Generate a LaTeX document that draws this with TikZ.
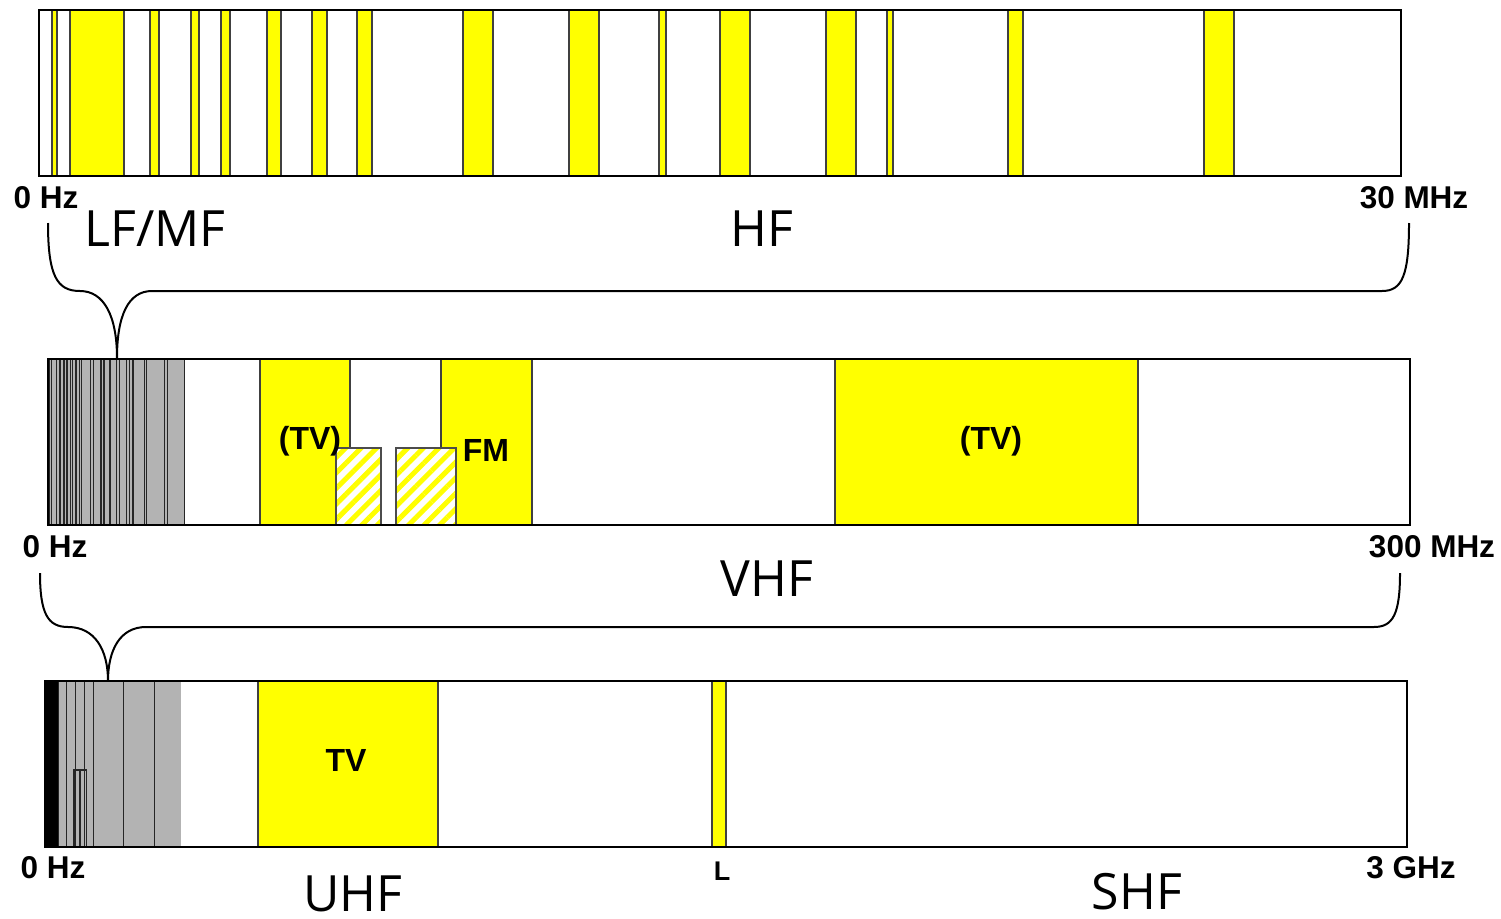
\documentclass[tikz,border=0pt]{standalone}
\usepackage{fontspec}
\setmainfont{Liberation Sans}
\newfontfamily\bigfont{Open Sans}
\usetikzlibrary{patterns.meta}
\definecolor{bandyellow}{RGB}{255,255,0}
\definecolor{lfgray}{RGB}{179,179,179}

% HF allocations, as x positions on the 0--30 MHz strip
\def\hfbands{52/57,70/124,150/159,191/199,221/230,267/281,312/327,357/372,463/493,569/599,659/666,720/750,826/856,887/893,1008/1023,1204/1234}
% VHF edges, as x positions on the 0--300 MHz strip
\def\vhfedges{184.2,260,350,441,532,835,1139}

\begin{document}
\begin{tikzpicture}[x=1pt,y=-1pt,
  frame/.style={draw=black,line width=2.4pt},
  band/.style={fill=bandyellow,draw=black!75,line width=1.2pt},
  edge/.style={draw=black!85,line width=1.1pt},
  hatch/.style={preaction={fill=white},pattern={Lines[angle=45,distance=11pt,line width=5pt]},pattern color=bandyellow},
  hatchframe/.style={draw=black!70,line width=1.2pt},
  brace/.style={draw=black,line width=2pt},
  scalelbl/.style={inner sep=0pt,anchor=base,font=\fontsize{31.5}{36}\selectfont\bfseries},
  bandlbl/.style={inner sep=0pt,font=\fontsize{32}{38}\selectfont\bfseries},
  rangelbl/.style={inner sep=0pt,anchor=base,text depth=0pt,font=\bigfont\fontsize{50}{58}\selectfont}]
\useasboundingbox (0,0) rectangle (1501,918);

% ---------- 0 .. 30 MHz ----------
\fill[white] (39,10) rectangle (1401,176);
\foreach \a/\b in \hfbands { \path[band] (\a,10) rectangle (\b,176); }
\draw[frame] (39,10) rectangle (1401,176);

\node[scalelbl] (hzA) at (46,208) {0 Hz};
\node[scalelbl] (mhz30) at (1414,208) {30 MHz};
\node[rangelbl] (lfmf) at (155,246) {LF/MF};
\node[rangelbl] (hf) at (762,246) {HF};

% brace: 0..30 MHz maps to the grey part of the next strip
\coordinate (b1l) at (48,223);
\coordinate (b1t) at (117,358);
\coordinate (b1r) at (1409,223);
\draw[brace] (b1l) .. controls (48,276) and (57,291) .. (80,291)
  .. controls (104,291) and (117,316) .. (b1t)
  .. controls (117,316) and (128,291) .. (152,291) -- (1382,291)
  .. controls (1402,291) and (1409,276) .. (b1r);

% ---------- 0 .. 300 MHz ----------
\fill[white] (48,359) rectangle (1410,525);
\fill[lfgray] (48,359) rectangle (184.2,525);
\foreach \a/\b in \hfbands {
  \pgfmathsetmacro\pa{48+(\a-39)/10}
  \pgfmathsetmacro\pb{48+(\b-39)/10}
  \draw[edge] (\pa,359) -- (\pa,525);
  \draw[edge] (\pb,359) -- (\pb,525);
}
\draw[edge] (184.2,359) -- (184.2,525);
\path[band] (260,359) rectangle (350,525);
\path[band] (441,359) rectangle (532,525);
\path[band] (835,359) rectangle (1138,525);
\fill[hatch] (336,448) rectangle (381,525);
\fill[hatch] (396,448) rectangle (456,525);
\draw[hatchframe] (336,525) |- (381,448) -- (381,525);
\draw[hatchframe] (396,525) |- (456,448) -- (456,525);
\draw[frame] (48,359) rectangle (1410,525);

\node[bandlbl] (tv1) at (310,441) {(TV)};
\node[bandlbl] (fm) at (486,450) {FM};
\node[bandlbl] (tv3) at (991,441) {(TV)};

\node[scalelbl] (hzB) at (55,557) {0 Hz};
\node[scalelbl] (mhz300) at (1432,557) {300 MHz};
\node[rangelbl] (vhf) at (767,596) {VHF};

% brace: 0..300 MHz maps to the grey part of the last strip
\coordinate (b2l) at (40,573);
\coordinate (b2t) at (108,681);
\coordinate (b2r) at (1400,573);
\draw[brace] (b2l) .. controls (40,614) and (48,627) .. (68,627)
  .. controls (95,627) and (108,650) .. (b2t)
  .. controls (108,650) and (120,627) .. (146,627) -- (1374,627)
  .. controls (1393,627) and (1400,614) .. (b2r);

% ---------- 0 .. 3 GHz ----------
\fill[white] (45,681) rectangle (1407,847);
\fill[lfgray] (45,681) rectangle (181.2,847);
\fill[black] (45,681) rectangle (57.5,847);
\foreach \e in \vhfedges {
  \pgfmathsetmacro\pe{45+(\e-48)/10}
  \draw[edge] (\pe,681) -- (\pe,847);
}
\draw[edge] (74,847) |- (80,770) -- (80,847);
\draw[edge] (80,847) |- (86.5,770) -- (86.5,847);
\path[band] (258,681) rectangle (438,847);
\path[band] (712,681) rectangle (726,847);
\draw[frame] (45,681) rectangle (1407,847);

\node[bandlbl] (tv4) at (346,760) {TV};

\node[scalelbl] (hzC) at (53,878) {0 Hz};
\node[scalelbl,font=\fontsize{27}{32}\selectfont\bfseries] (lband) at (722,880) {L};
\node[scalelbl] (ghz3) at (1411,878) {3 GHz};
\node[rangelbl] (uhf) at (353,911) {UHF};
\node[rangelbl] (shf) at (1137,909) {SHF};
\end{tikzpicture}
\end{document}
